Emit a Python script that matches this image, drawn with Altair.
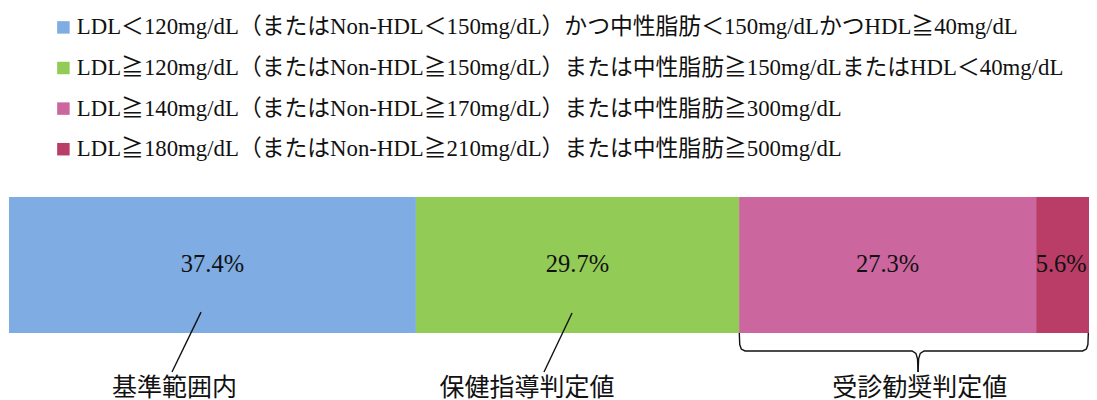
import altair as alt
import pandas as pd

# ---- data ----
legend_labels = [
    "LDL＜120mg/dL（またはNon-HDL＜150mg/dL）かつ中性脂肪＜150mg/dLかつHDL≧40mg/dL",
    "LDL≧120mg/dL（またはNon-HDL≧150mg/dL）または中性脂肪≧150mg/dLまたはHDL＜40mg/dL",
    "LDL≧140mg/dL（またはNon-HDL≧170mg/dL）または中性脂肪≧300mg/dL",
    "LDL≧180mg/dL（またはNon-HDL≧210mg/dL）または中性脂肪≧500mg/dL",
]
values = [37.4, 29.7, 27.3, 5.6]
colors = ["#7FACE2", "#92CB56", "#CC669E", "#B93D66"]

group_labels = ["基準範囲内", "保健指導判定値", "受診勧奨判定値"]
group_label_x = [15.2, 47.6, 83.7]

# leader lines (x in %, y in bar units: 0 = bar bottom, 1 = bar top)
leader1_x = [17.65, 14.98]
leader1_y = [0.154, -0.287]
leader2_x = [51.75, 49.17]
leader2_y = [0.147, -0.287]
# brace under the two red categories
brace_left_x = [67.12, 67.16, 67.3, 67.65, 83.0, 83.35, 83.5, 83.55]
brace_left_y = [0.0, -0.085, -0.118, -0.132, -0.132, -0.15, -0.19, -0.287]
brace_right_x = [99.2, 99.16, 99.02, 98.67, 84.1, 83.75, 83.6, 83.55]
brace_right_y = [0.0, -0.085, -0.118, -0.132, -0.132, -0.15, -0.19, -0.287]

FONT = "Liberation Serif, Noto Sans CJK JP"
TEXT_COLOR = "#111111"

# ---- tables ----
starts, ends, acc = [], [], 0.0
for v in values:
    starts.append(acc)
    acc += v
    ends.append(acc)
mids = [(s + e) / 2 for s, e in zip(starts, ends)]
text_x = mids[:3] + [min(mids[3], 96.7)]  # keep the last label inside the visible edge
bars = pd.DataFrame({
    "cat": legend_labels,
    "start": starts,
    "end": ends,
    "tx": text_x,
    "top": [1.0] * 4,
    "bottom": [0.0] * 4,
    "ymid": [0.5] * 4,
    "label": [f"{v:.1f}%" for v in values],
})

rows = []
for g, (xs, ys) in enumerate([(leader1_x, leader1_y), (leader2_x, leader2_y),
                              (brace_left_x, brace_left_y), (brace_right_x, brace_right_y)]):
    for i, (x, y) in enumerate(zip(xs, ys)):
        rows.append({"x": x, "y": y, "grp": g, "ord": i})
lines = pd.DataFrame(rows)

glabels = pd.DataFrame({"x": group_label_x, "y": [-0.404] * 3, "text": group_labels})

# the reference is cropped at the right edge: the 100% end sits just past the visible area
xscale = alt.Scale(domain=[0, 99.26], nice=False, zero=False)
yscale = alt.Scale(domain=[-0.441, 1.0], nice=False, zero=False)

bar = alt.Chart(bars).mark_bar(cornerRadius=0, clip=True).encode(
    x=alt.X("start:Q", scale=xscale, axis=None),
    x2="end:Q",
    y=alt.Y("top:Q", scale=yscale, axis=None),
    y2="bottom:Q",
    color=alt.Color(
        "cat:N",
        scale=alt.Scale(domain=legend_labels, range=colors),
        legend=alt.Legend(
            orient="none", legendX=43, legendY=-181, title=None,
            symbolType="square", symbolSize=156, symbolStrokeWidth=0,
            labelFont=FONT, labelFontSize=22.8, labelColor=TEXT_COLOR,
            labelLimit=1100, rowPadding=16.6, labelOffset=2, padding=0,
        ),
    ),
)

pct = alt.Chart(bars).mark_text(font=FONT, fontSize=24.5, color=TEXT_COLOR, baseline="middle", align="center").encode(
    x=alt.X("tx:Q", scale=xscale, axis=None),
    y=alt.Y("ymid:Q", scale=yscale, axis=None),
    text="label:N",
)

ln = alt.Chart(lines).mark_line(color="#111111", strokeWidth=1.4).encode(
    x=alt.X("x:Q", scale=xscale, axis=None),
    y=alt.Y("y:Q", scale=yscale, axis=None),
    detail="grp:N",
    order="ord:Q",
)

gl = alt.Chart(glabels).mark_text(font=FONT, fontSize=25, color=TEXT_COLOR, baseline="middle", align="center").encode(
    x=alt.X("x:Q", scale=xscale, axis=None),
    y=alt.Y("y:Q", scale=yscale, axis=None),
    text="text:N",
)

chart = alt.layer(bar, pct, ln, gl).properties(
    width=1080, height=196,
    padding={"left": 1, "top": 189, "right": 0, "bottom": 7},
    autosize=alt.AutoSizeParams(type="none"),
    background="white",
).configure_view(stroke=None)

chart.save("out.html", embed_options={"renderer": "svg", "actions": False})
